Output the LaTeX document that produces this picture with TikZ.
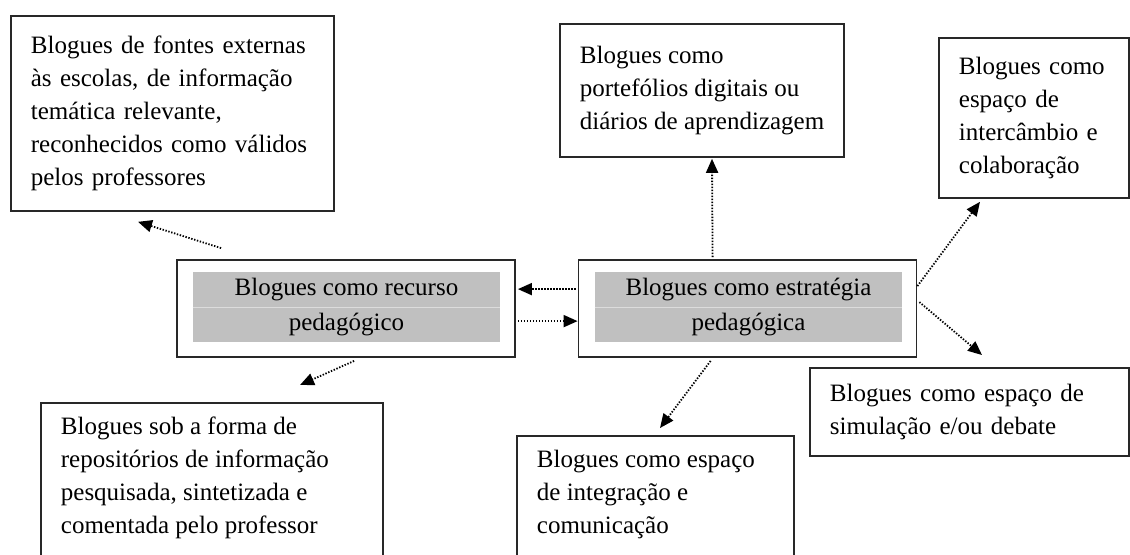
\documentclass[tikz,border=0pt]{standalone}
\usepackage{fontspec}
\setmainfont{Liberation Serif}
\usetikzlibrary{arrows.meta}
\definecolor{cinza}{RGB}{192,192,192}
\definecolor{traco}{RGB}{40,40,40}
\tikzset{
    caixa/.style={rectangle, draw=traco, line width=0.9pt, anchor=north west,
    	inner xsep=10pt, inner ysep=7pt, align=left, text=black,
    	font=\fontsize{12.5pt}{16.5pt}\selectfont}
}
\tikzset{
    nucleo/.style={rectangle, draw=traco, line width=0.9pt,
    	minimum width=169pt, minimum height=48.5pt}
}
\tikzset{
    celula/.style={rectangle, fill=cinza, minimum width=153.5pt,
    	minimum height=17.5pt, inner sep=0pt, text=black,
    	font=\fontsize{12.5pt}{16.5pt}\selectfont},
    divisoria/.style={line width=0.5pt, draw=cinza!55!white}
}
\tikzset{
    seta/.style={line width=0.9pt, dash pattern=on 0.7pt off 0.8pt,
    	-{Triangle[length=7pt,width=6pt]}}
}

\begin{document}
\begin{tikzpicture}[x=0.5pt, y=-0.5pt]
  \useasboundingbox (0,0) rectangle (1130,554);
  \clip (0,0) rectangle (1130,554);

  \node[caixa, minimum width=161.5pt, minimum height=97.5pt, text width=141.5pt]
    (externas) at (10,15) {Blogues de fontes externas\\ às escolas, de informação\\
    temática relevante,\\ reconhecidos como válidos\\ pelos professores};
  \node[caixa, minimum width=139pt, minimum height=66.5pt]
    (portefolios) at (559,23) {Blogues como\\ portefólios digitais ou\\
    diários de aprendizagem};
  \node[caixa, minimum width=95pt, minimum height=80pt, text width=75pt]
    (intercambio) at (938,37) {Blogues como\\ espaço de\\ intercâmbio e\\ colaboração};
  \node[caixa, minimum width=159.5pt, minimum height=44pt, text width=139.5pt]
    (simulacao) at (809,367) {Blogues como espaço de\\ simulação e/ou debate};
  \node[caixa, minimum width=171pt]
    (repositorios) at (40,402) {\begin{minipage}[t][80pt][t]{151pt}Blogues sob a forma de\\
    repositórios de informação\\ pesquisada, sintetizada e\\
    comentada pelo professor\end{minipage}};
  \node[caixa, minimum width=138.5pt]
    (integracao) at (516,435) {\begin{minipage}[t][80pt][t]{118.5pt}Blogues como espaço\\
    de integração e\\ comunicação\end{minipage}};

  \node[nucleo] (recurso) at (346,308.5) {};
  \node[celula] (recurso1) at (346.5,289.5) {Blogues como recurso};
  \node[celula] (recurso2) at (346.5,324.5) {pedagógico};
  \draw[divisoria] (recurso1.south west) -- (recurso1.south east);

  \node[nucleo] (estrategia) at (747.5,308.5) {};
  \node[celula] (estrategia1) at (748.5,289.5) {Blogues como estratégia};
  \node[celula] (estrategia2) at (748.5,324.5) {pedagógica};
  \draw[divisoria] (estrategia1.south west) -- (estrategia1.south east);

  \draw[seta] ([shift={(45,-11)}]recurso.north west) -- ([shift={(128,10)}]externas.south west);
  \draw[seta] ([shift={(-2,30)}]estrategia.north west) -- ([shift={(2,30)}]recurso.north east);
  \draw[seta] ([shift={(2,62)}]recurso.north east) -- ([shift={(0,62)}]estrategia.north west);
  \draw[seta] ([shift={(178,3)}]recurso.south west) -- ([shift={(260,-17)}]repositorios.north west);
  \draw[seta] ([shift={(135,-2)}]estrategia.north west) -- ([shift={(153,1)}]portefolios.south west);
  \draw[seta] ([shift={(0,27)}]estrategia.north east) -- ([shift={(42,3)}]intercambio.south west);
  \draw[seta] ([shift={(2,43)}]estrategia.north east) -- ([shift={(173,-12)}]simulacao.north west);
  \draw[seta] ([shift={(133,3)}]estrategia.south west) -- ([shift={(144,-7)}]integracao.north west);
\end{tikzpicture}
\end{document}
